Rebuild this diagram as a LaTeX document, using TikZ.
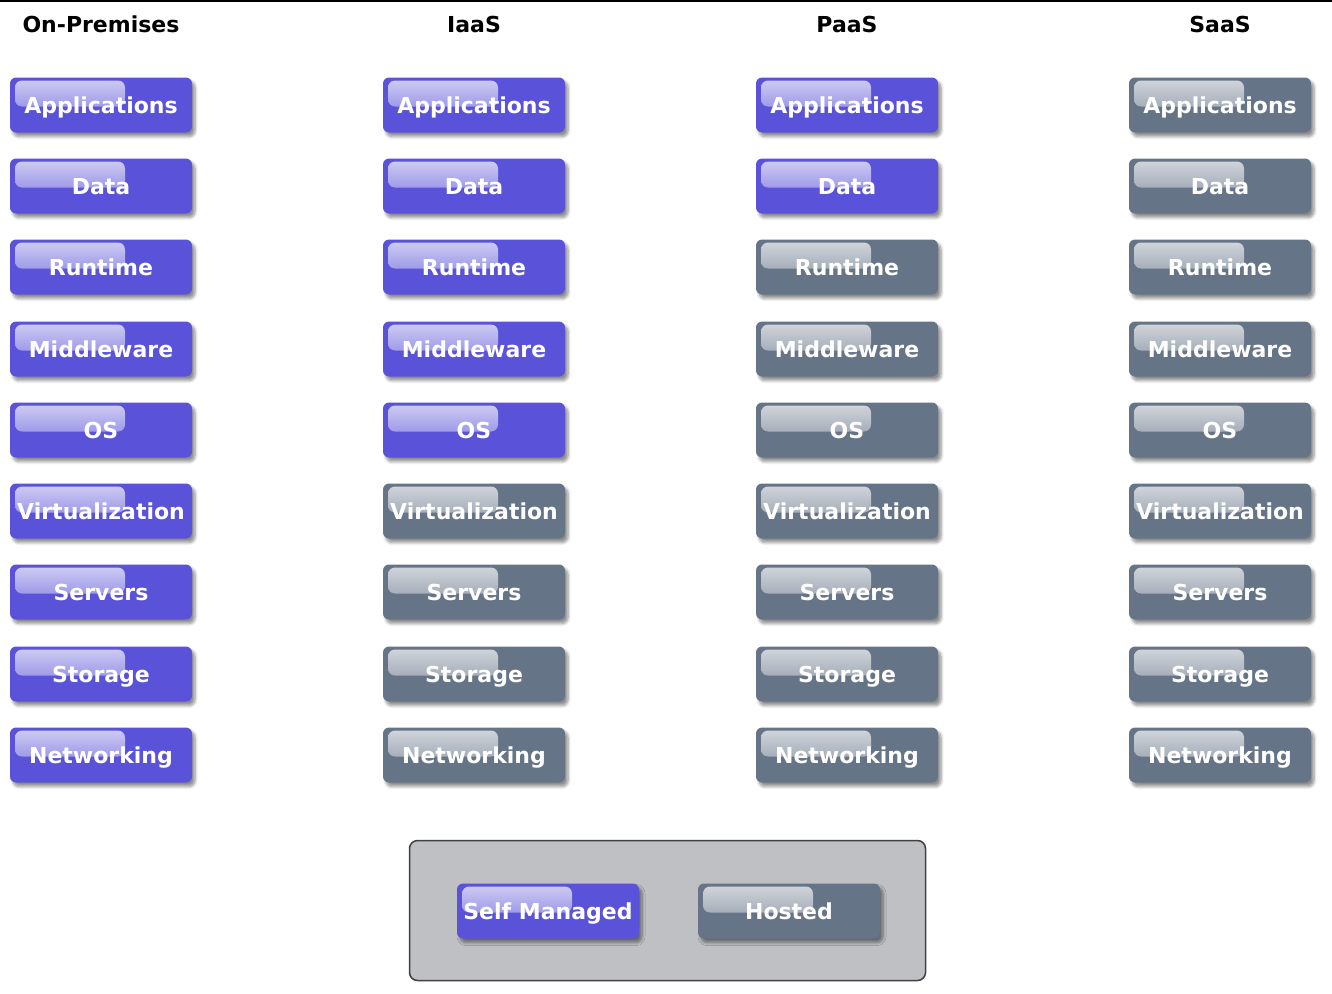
\documentclass[tikz,border=0pt]{standalone}
\usepackage{fontspec}
\setmainfont{DejaVu Sans}
\usetikzlibrary{shadows, shadows.blur}
\definecolor{selfblue}{RGB}{90,82,216}
\definecolor{hostgray}{RGB}{102,116,136}
\definecolor{legendgray}{RGB}{190,192,196}

\begin{document}
\begin{tikzpicture}[x=1pt, y=-1pt,
    btn/.style={rectangle, rounded corners=6pt, fill=#1, minimum width=182pt, minimum height=55pt, inner sep=0pt,
        font=\fontsize{22}{26}\selectfont\bfseries, text=white, text height=16pt, text depth=0pt,
        blur shadow={shadow xshift=3pt, shadow yshift=-4pt, shadow blur steps=6, shadow blur radius=3pt, shadow opacity=45},
        path picture={\shade[top color=white!72!#1, bottom color=white!15!#1, rounded corners=7pt]
            ([xshift=5pt,yshift=-3pt]path picture bounding box.north west) rectangle
            ([xshift=115pt,yshift=-29pt]path picture bounding box.north west);}},
    self/.style={btn=selfblue},
    hosted/.style={btn=hostgray},
    title/.style={font=\fontsize{22}{26}\selectfont\bfseries, text=black}
]
    \useasboundingbox (0,0) rectangle (1332,993);
    \draw[line width=2pt] (0,1) -- (1332,1);

    % Column titles
    \node[title] (onprem) at (101, 24) {On-Premises};
    \node[title] (iaas) at (474, 24) {IaaS};
    \node[title] (paas) at (847, 24) {PaaS};
    \node[title] (saas) at (1220, 24) {SaaS};

    % On-Premises
    \node[self] (op-apps) at (101, 105) {Applications};
    \node[self] (op-data) at (101, 186) {Data};
    \node[self] (op-runtime) at (101, 267) {Runtime};
    \node[self] (op-mw) at (101, 349) {Middleware};
    \node[self] (op-os) at (101, 430) {OS};
    \node[self] (op-virt) at (101, 511) {Virtualization};
    \node[self] (op-servers) at (101, 592) {Servers};
    \node[self] (op-storage) at (101, 674) {Storage};
    \node[self] (op-net) at (101, 755) {Networking};

    % IaaS
    \node[self] (iaas-apps) at (474, 105) {Applications};
    \node[self] (iaas-data) at (474, 186) {Data};
    \node[self] (iaas-runtime) at (474, 267) {Runtime};
    \node[self] (iaas-mw) at (474, 349) {Middleware};
    \node[self] (iaas-os) at (474, 430) {OS};
    \node[hosted] (iaas-virt) at (474, 511) {Virtualization};
    \node[hosted] (iaas-servers) at (474, 592) {Servers};
    \node[hosted] (iaas-storage) at (474, 674) {Storage};
    \node[hosted] (iaas-net) at (474, 755) {Networking};

    % PaaS
    \node[self] (paas-apps) at (847, 105) {Applications};
    \node[self] (paas-data) at (847, 186) {Data};
    \node[hosted] (paas-runtime) at (847, 267) {Runtime};
    \node[hosted] (paas-mw) at (847, 349) {Middleware};
    \node[hosted] (paas-os) at (847, 430) {OS};
    \node[hosted] (paas-virt) at (847, 511) {Virtualization};
    \node[hosted] (paas-servers) at (847, 592) {Servers};
    \node[hosted] (paas-storage) at (847, 674) {Storage};
    \node[hosted] (paas-net) at (847, 755) {Networking};

    % SaaS
    \node[hosted] (saas-apps) at (1220, 105) {Applications};
    \node[hosted] (saas-data) at (1220, 186) {Data};
    \node[hosted] (saas-runtime) at (1220, 267) {Runtime};
    \node[hosted] (saas-mw) at (1220, 349) {Middleware};
    \node[hosted] (saas-os) at (1220, 430) {OS};
    \node[hosted] (saas-virt) at (1220, 511) {Virtualization};
    \node[hosted] (saas-servers) at (1220, 592) {Servers};
    \node[hosted] (saas-storage) at (1220, 674) {Storage};
    \node[hosted] (saas-net) at (1220, 755) {Networking};

    % Legend
    \node[draw=black!75, line width=1.5pt, fill=legendgray, rounded corners=8pt,
        minimum width=516pt, minimum height=140pt] (legend) at (667.5, 910.5) {};
    \node[self] (selfmanaged) at (548, 911) {Self Managed};
    \node[hosted] (hostedkey) at (789, 911) {Hosted};
\end{tikzpicture}
\end{document}
